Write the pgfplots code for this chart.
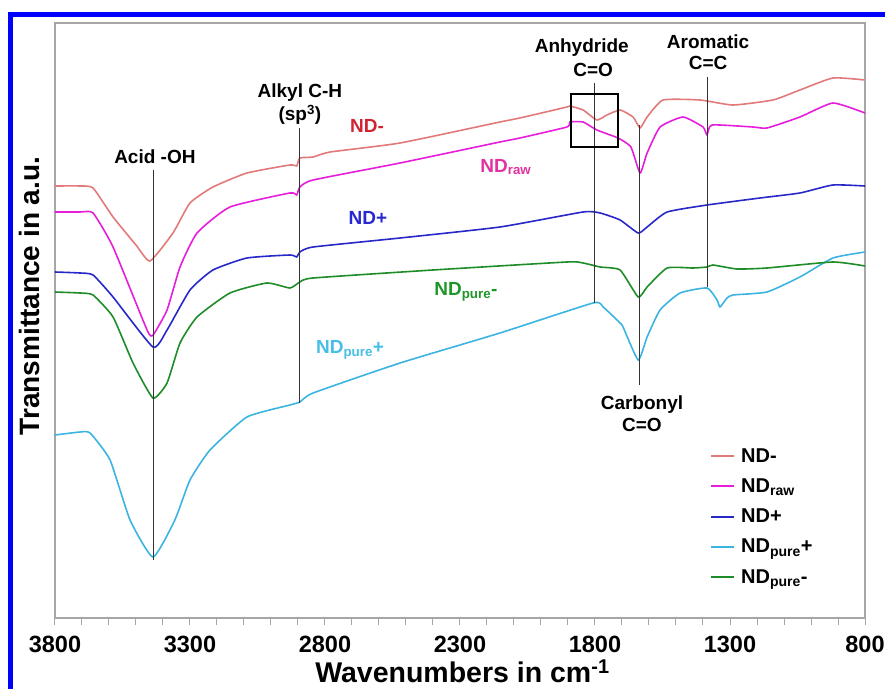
\documentclass[border=0pt]{standalone}
\usepackage{pgfplots}
\pgfplotsset{compat=1.18}
\usepackage{fontspec}
\setmainfont{Liberation Sans}

\definecolor{cNDm}{RGB}{226,122,122}
\definecolor{cRaw}{RGB}{230,30,220}
\definecolor{cPlus}{RGB}{40,40,200}
\definecolor{cPureP}{RGB}{60,180,225}
\definecolor{cPureM}{RGB}{30,140,40}
\definecolor{lNDm}{RGB}{210,35,50}
\definecolor{lRaw}{RGB}{225,50,160}
\definecolor{lPlus}{RGB}{40,40,210}
\definecolor{lPureM}{RGB}{30,150,40}
\definecolor{lPureP}{RGB}{70,190,230}

\newcommand{\annfont}{\fontsize{19}{21}\selectfont\bfseries}

\begin{document}
\begin{tikzpicture}
\useasboundingbox (0,0) rectangle (885pt,689pt);
% blue frame (cut off on the right and bottom)
\draw[color={rgb,255:red,0;green,0;blue,255}, line width=5pt] (10.5pt,0pt) -- (10.5pt,674.5pt) -- (885pt,674.5pt);

\begin{axis}[
    at={(55pt,71pt)}, anchor=south west,
    scale only axis, width=810pt, height=595pt,
    xmin=800, xmax=3800, x dir=reverse,
    ymin=0, ymax=595,
    clip=false,
    axis line style={gray!70, line width=1.2pt},
    ytick=\empty,
    xtick={800,1300,1800,2300,2800,3300,3800},
    xticklabels={800,1300,1800,2300,2800,3300,3800},
    minor x tick num=4,
    xtick pos=left, xtick align=outside,
    major tick length=7pt, minor tick length=7pt,
    every tick/.style={gray!70, line width=1pt},
    tick label style={font=\fontsize{23.5}{27}\selectfont\bfseries},
    xticklabel style={yshift=-8pt},
    xlabel={Wavenumbers in cm\textsuperscript{-1}},
    ylabel={Transmittance in a.u.},
    xlabel style={at={(axis description cs:0.503,-0.108)}, anchor=base, inner sep=0pt,
        font=\fontsize{28.5}{32}\selectfont\bfseries},
    ylabel style={at={(axis description cs:-0.031,0.541)}, anchor=center, rotate=0,
        font=\fontsize{28}{32}\selectfont\bfseries},
    legend cell align=left,
    legend image code/.code={\draw[#1, line width=2pt] (0pt,0pt) -- (23pt,0pt);},
    legend style={draw=none, fill=none, at={(axis description cs:0.805,0.292)}, anchor=north west,
        font=\fontsize{20}{24}\selectfont\bfseries, row sep=11pt, column sep=4pt},
    every axis plot/.append style={smooth, tension=0.3, line width=1.6pt},
]
% ND-
\addplot[color=cNDm] coordinates {
(3800,432) (3707,432) (3659,430) (3585,401) (3500,373) (3448,357) (3363,385)
(3300,415) (3215,431) (3089,445) (2930,453) (2905,452) (2893,460) (2844,461)
(2781,466) (2522,475) (2152,496) (2078,500) (1904,511) (1893,512) (1844,508)
(1793,498) (1756,503) (1707,508) (1659,501) (1633,490) (1607,501) (1548,518)
(1411,518) (1289,513) (1141,518) (1041,528) (919,540) (800,538)
};
\addlegendentry{ND-}
% ND raw
\addplot[color=cRaw] coordinates {
(3800,406) (3707,406) (3659,405) (3585,371) (3459,288) (3437,283) (3385,308)
(3337,351) (3274,385) (3152,411) (2930,425) (2905,423) (2893,431) (2844,438)
(2522,455) (2152,476) (2078,480) (1904,491) (1893,496) (1844,496) (1793,488)
(1715,480) (1667,471) (1633,445) (1607,465) (1559,491) (1474,501) (1400,491)
(1385,483) (1367,493) (1215,491) (1163,490) (1041,501) (919,515) (800,505)
};
\addlegendentry{ND\textsubscript{raw}}
% ND+
\addplot[color=cPlus] coordinates {
(3800,346) (3707,345) (3659,343) (3585,321) (3437,271) (3385,288) (3300,328)
(3215,348) (3089,360) (2930,363) (2905,361) (2893,366) (2844,371) (2522,380)
(2152,391) (1844,406) (1781,405) (1707,398) (1640,385) (1607,391) (1533,406)
(1385,413) (1189,420) (1041,425) (919,433) (800,432)
};
\addlegendentry{ND+}
% ND pure+
\addplot[color=cPureP] coordinates {
(3800,183) (3707,186) (3670,185) (3596,158) (3522,98) (3437,61) (3356,98)
(3300,138) (3226,168) (3089,201) (2930,213) (2893,216) (2844,225) (2522,255)
(2152,285) (1807,315) (1770,311) (1707,295) (1696,291) (1640,258) (1607,281)
(1559,308) (1485,325) (1385,330) (1348,318) (1337,311) (1311,320) (1289,323)
(1163,326) (1041,341) (919,360) (800,366)
};
\addlegendentry{ND\textsubscript{pure}+}
% ND pure-
\addplot[color=cPureM] coordinates {
(3800,326) (3707,325) (3659,323) (3585,301) (3511,255) (3437,220) (3385,235)
(3337,275) (3274,301) (3152,325) (3015,335) (2930,330) (2893,336) (2844,340)
(2400,348) (1904,356) (1844,355) (1781,351) (1707,348) (1640,321) (1607,331)
(1533,350) (1437,350) (1385,351) (1363,353) (1274,349) (1163,350) (919,356)
(800,352)
};
\addlegendentry{ND\textsubscript{pure}-}

% band markers
\draw[black!80, line width=1pt] (axis cs:3437,448) -- (axis cs:3437,58);
\draw[black!80, line width=1pt] (axis cs:2893,490) -- (axis cs:2893,215);
\draw[black!80, line width=1pt] (axis cs:1800,535) -- (axis cs:1800,315);
\draw[black!80, line width=1pt] (axis cs:1385,541) -- (axis cs:1385,331);
\draw[black!80, line width=1pt] (axis cs:1637,493) -- (axis cs:1637,233);
\draw[black, line width=1.8pt] (axis cs:1889,524) rectangle (axis cs:1715,471);

\node[font=\annfont] at (axis cs:3430,461) {Acid -OH};
\node[font=\annfont] at (axis cs:2893,525) {Alkyl C-H};
\node[font=\annfont] at (axis cs:2893,503) {(sp\textsuperscript{3})};
\node[font=\annfont] at (axis cs:1849,570) {Anhydride};
\node[font=\annfont] at (axis cs:1807,548) {C=O};
\node[font=\annfont] at (axis cs:1381,576) {Aromatic};
\node[font=\annfont] at (axis cs:1381,555) {C=C};
\node[font=\annfont] at (axis cs:1626,213) {Carbonyl};
\node[font=\annfont] at (axis cs:1626,193) {C=O};

\node[font=\annfont, text=lNDm] at (axis cs:2644,492) {ND-};
\node[font=\annfont, text=lRaw] at (axis cs:2130,451) {ND\textsubscript{raw}};
\node[font=\annfont, text=lPlus] at (axis cs:2641,400) {ND+};
\node[font=\annfont, text=lPureM] at (axis cs:2278,326) {ND\textsubscript{pure}-};
\node[font=\annfont, text=lPureP] at (axis cs:2707,268) {ND\textsubscript{pure}+};
\end{axis}
\end{tikzpicture}
\end{document}
